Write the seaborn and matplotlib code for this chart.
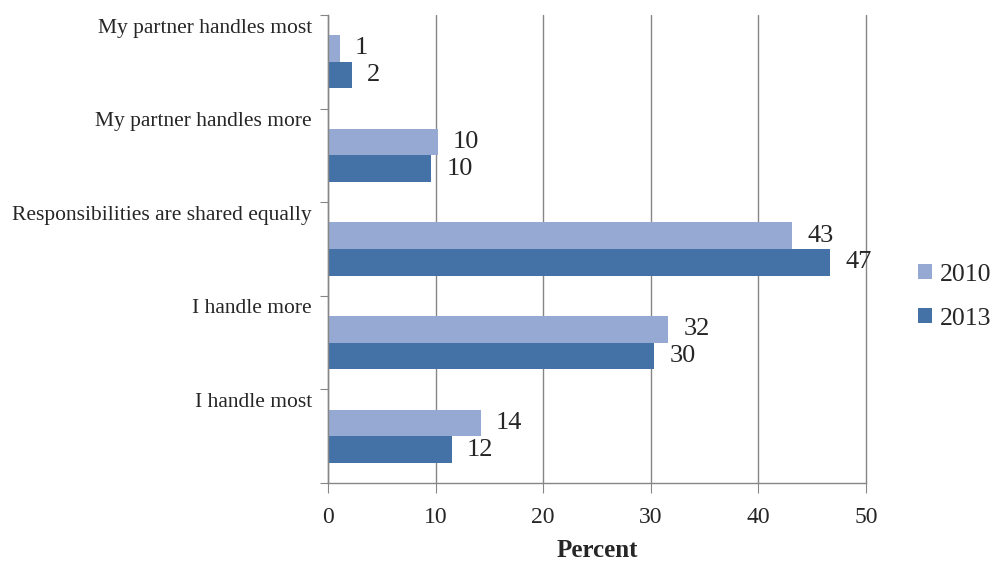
import numpy as np
import pandas as pd
import matplotlib
matplotlib.use('Agg')
import matplotlib.pyplot as plt
import matplotlib.transforms as mtransforms
import seaborn as sns

#%% Data
categories = ['My partner handles most', 'My partner handles more',
              'Responsibilities are shared equally', 'I handle more', 'I handle most']
years = ['2010', '2013']
vals_2010 = [1.1, 10.2, 43.1, 31.6, 14.2]
vals_2013 = [2.2, 9.6, 46.7, 30.3, 11.5]
labels_2010 = [1, 10, 43, 32, 14]
labels_2013 = [2, 10, 47, 30, 12]

df = pd.DataFrame({'Category': categories * 2,
                   'Year': np.repeat(years, len(categories)),
                   'Percent': vals_2010 + vals_2013,
                   'Label': labels_2010 + labels_2013})

palette = {'2010': '#95A9D2', '2013': '#4472A7'}

#%% Plot
sns.set_style('white')
plt.rcParams['font.family'] = ['Liberation Serif', 'DejaVu Serif']

fig = plt.figure(figsize=(9.95, 5.63), dpi=100)
ax = fig.add_axes([328/995, 1 - 483/563, (866-328)/995, (483-15)/563])

sns.barplot(data=df, y='Category', x='Percent', hue='Year', orient='h',
            palette=palette, order=categories, hue_order=years,
            width=0.57, saturation=1, errorbar=None, linewidth=0, ax=ax)

# data labels
for cont, yr in zip(ax.containers, years):
    labs = df.loc[df.Year == yr, 'Label'].tolist()
    ax.bar_label(cont, labels=[str(v) for v in labs], padding=11, fontsize=19)

ax.set_xlim(0, 50)
ax.set_ylim(len(categories) - 0.5, -0.5)
ax.set_xticks(range(0, 51, 10))
ax.tick_params(axis='x', bottom=True, labelsize=17, length=7, color='#868686',
               direction='out', pad=10)
ax.set_yticks(np.arange(-0.5, len(categories), 1))
ax.set_yticklabels([])
ax.tick_params(axis='y', left=True, length=6, color='#868686', direction='out')
ax.grid(axis='x', color='#868686', linewidth=1)
for gl in ax.get_xgridlines():
    gl.set_clip_on(False)
ax.set_axisbelow(True)
for s in ['top', 'right']:
    ax.spines[s].set_visible(False)
for s in ['left', 'bottom']:
    ax.spines[s].set_color('#868686')
    ax.spines[s].set_linewidth(1)

# category labels near top of each band
trans = mtransforms.blended_transform_factory(ax.transAxes, ax.transData)
for i, c in enumerate(categories):
    ax.text(-16/538, i - 0.36, c, transform=trans, ha='right', va='center', fontsize=15.5)

ax.set_ylabel('')
ax.set_xlabel('Percent', fontsize=18, fontweight='bold', labelpad=8)

ax.legend(loc='center left', bbox_to_anchor=(1.096, 0.398), frameon=False,
          fontsize=18.5, handlelength=0.55, handleheight=0.55, labelspacing=0.85,
          handletextpad=0.3, borderaxespad=0, borderpad=0)

fig.savefig('out.png', dpi=100)
